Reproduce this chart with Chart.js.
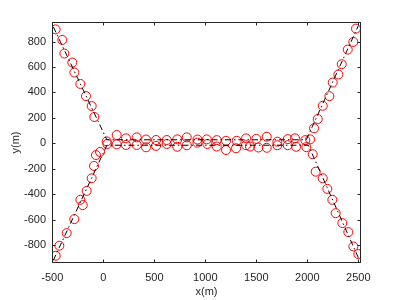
<!DOCTYPE html>
<html>
<head>
<meta charset="utf-8">
<script src="https://cdn.jsdelivr.net/npm/chart.js@4/dist/chart.umd.min.js"></script>
<style>
  html, body { margin: 0; padding: 0; background: #fff; }
  #wrap { width: 400px; height: 300px; }
</style>
</head>
<body>
<div id="wrap"><canvas id="c" width="400" height="300"></canvas></div>
<script>
// true tracks (dash-dot)
const track1X = [-490, 35, 1990, 2500];
const track1Y = [915, 28, 28, 925];
const track2X = [-490, 35, 2010, 2500];
const track2Y = [-920, -15, -15, -900];

// measurements (red circles)
const meas1X = [-467, -402, -382, -304, -284, -225, -170, -114, -88,
  33, 131, 222, 327, 419, 517, 622, 725, 818, 922, 1014, 1112, 1203, 1308, 1399, 1500, 1602, 1706, 1808, 1879, 1980,
  2027, 2066, 2102, 2151, 2216, 2249, 2304, 2337, 2396, 2451, 2477];
const meas1Y = [896, 813, 706, 635, 557, 467, 371, 293, 207,
  15, 65, 39, 47, 30, 26, 26, 31, 47, 30, 31, 25, 20, 20, 39, 35, 52, 13, 33, 39, 25,
  31, 118, 191, 295, 371, 478, 541, 622, 737, 797, 902];
const meas2X = [-467, -431, -359, -284, -225, -202, -163, -114, -91, -72, -32,
  40, 131, 222, 327, 419, 517, 622, 725, 818, 922, 1020, 1112, 1203, 1301, 1399, 1438, 1520, 1602, 1706, 1808, 1890, 1990,
  2053, 2082, 2151, 2196, 2245, 2278, 2343, 2402, 2451, 2500];
const meas2Y = [-884, -805, -706, -596, -444, -486, -374, -275, -178, -92, -68,
  -5, -8, -13, -13, -31, -20, -5, -27, -15, 5, -5, -25, -53, -39, -15, -25, -33, -35, -15, -15, -27, -30,
  -86, -223, -275, -358, -444, -549, -627, -698, -811, -871];

const xTicks = [-500, 0, 500, 1000, 1500, 2000, 2500];
const yTicks = [-800, -600, -400, -200, 0, 200, 400, 600, 800];

const pts = (xs, ys) => xs.map((v, i) => ({x: v, y: ys[i]}));
const axisColor = '#262626';
const font = { family: 'Liberation Sans, Arial, sans-serif', size: 11 };

// MATLAB-like box with inward ticks on all sides
const boxTicks = {
  id: 'boxTicks',
  afterDraw(chart) {
    const {ctx, chartArea: a, scales: {x, y}} = chart;
    const L = Math.round(a.left) + 0.5, R = Math.round(a.right) - 0.5;
    const T = Math.round(a.top) + 0.5, B = Math.round(a.bottom) - 0.5;
    const len = 3;
    ctx.save();
    ctx.strokeStyle = axisColor;
    ctx.lineWidth = 1;
    ctx.strokeRect(L, T, R - L, B - T);
    ctx.beginPath();
    xTicks.forEach(v => {
      const px = Math.round(x.getPixelForValue(v)) + 0.5;
      ctx.moveTo(px, B); ctx.lineTo(px, B - len);
      ctx.moveTo(px, T); ctx.lineTo(px, T + len);
    });
    yTicks.forEach(v => {
      const py = Math.round(y.getPixelForValue(v)) + 0.5;
      ctx.moveTo(L, py); ctx.lineTo(L + len, py);
      ctx.moveTo(R, py); ctx.lineTo(R - len, py);
    });
    ctx.stroke();
    ctx.restore();
  }
};

const trackStyle = {
  showLine: true,
  borderColor: '#000000',
  borderWidth: 1,
  borderDash: [6, 3, 1.5, 3],
  pointRadius: 0,
  fill: false
};
const measStyle = {
  showLine: false,
  pointStyle: 'circle',
  pointRadius: 4.5,
  pointBorderWidth: 1,
  pointBorderColor: '#ff0000',
  pointBackgroundColor: 'rgba(0,0,0,0)'
};

new Chart(document.getElementById('c'), {
  type: 'scatter',
  data: {
    datasets: [
      Object.assign({data: pts(track1X, track1Y)}, trackStyle),
      Object.assign({data: pts(track2X, track2Y)}, trackStyle),
      Object.assign({data: pts(meas1X, meas1Y)}, measStyle),
      Object.assign({data: pts(meas2X, meas2Y)}, measStyle)
    ]
  },
  options: {
    responsive: false,
    animation: false,
    layout: { padding: { left: 0, top: 22, right: 39, bottom: 0 } },
    plugins: { legend: { display: false }, tooltip: { enabled: false } },
    scales: {
      x: {
        type: 'linear',
        min: -503,
        max: 2526,
        afterBuildTicks: s => { s.ticks = xTicks.map(v => ({value: v})); },
        afterFit: s => { s.height = 37; },
        grid: { display: false, drawTicks: false },
        border: { display: false },
        ticks: {
          color: axisColor,
          font: font,
          padding: 8,
          maxRotation: 0,
          callback: v => String(v)
        },
        title: {
          display: true,
          text: 'x(m)',
          color: axisColor,
          font: font,
          padding: { top: 1.5, bottom: 1.5 }
        }
      },
      y: {
        type: 'linear',
        min: -941,
        max: 954,
        afterBuildTicks: s => { s.ticks = yTicks.map(v => ({value: v})); },
        afterFit: s => { s.width = 52; },
        grid: { display: false, drawTicks: false },
        border: { display: false },
        ticks: {
          color: axisColor,
          font: font,
          padding: 6,
          callback: v => String(v)
        },
        title: {
          display: true,
          text: 'y(m)',
          color: axisColor,
          font: font,
          padding: { top: 9, bottom: 9 }
        }
      }
    }
  },
  plugins: [boxTicks]
});
</script>
</body>
</html>
